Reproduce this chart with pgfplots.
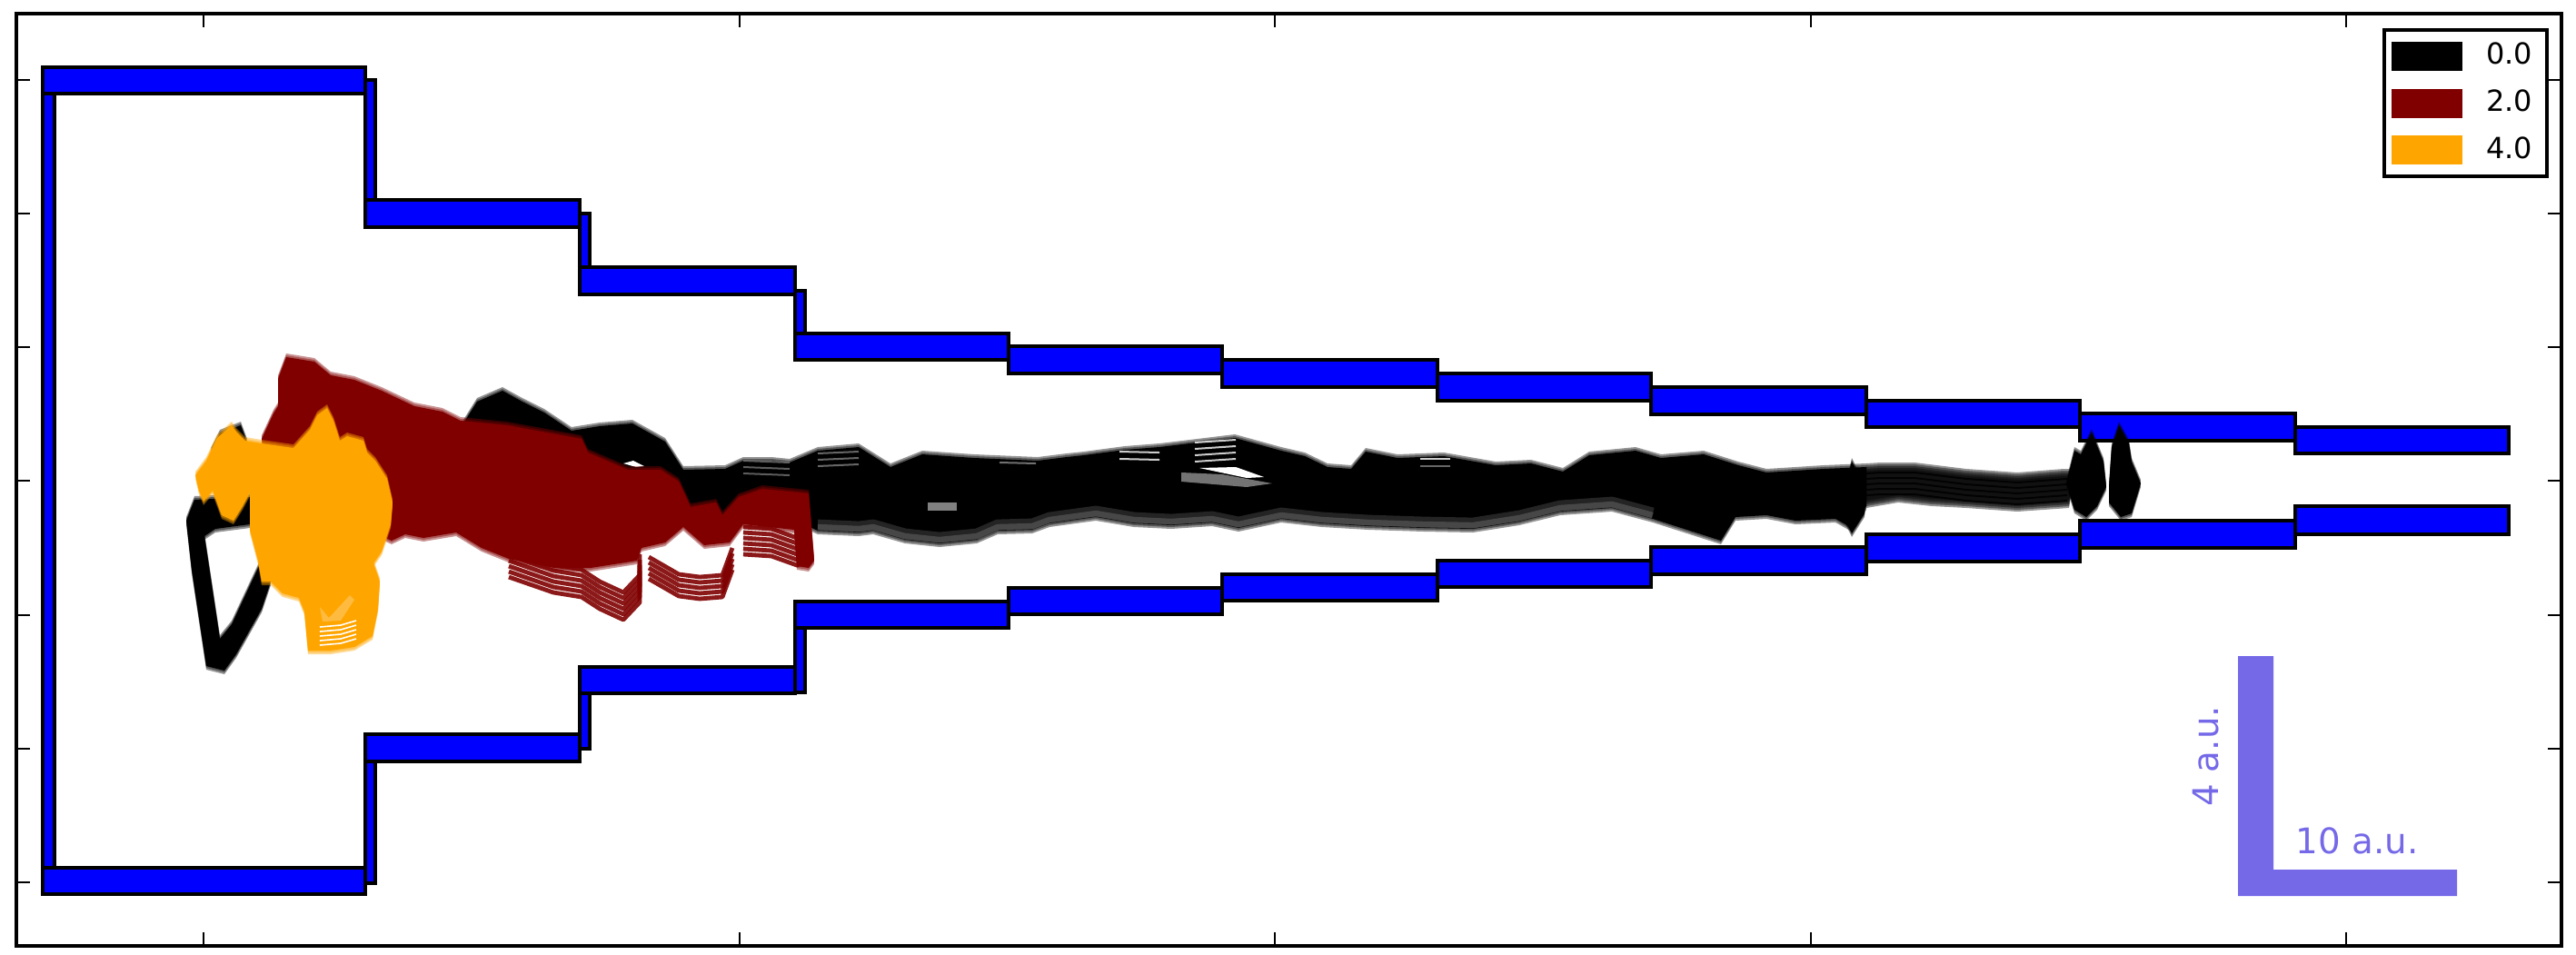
\documentclass[border=0pt]{standalone}
\usepackage{fontspec}
\setmainfont{DejaVu Sans}
\usepackage{pgfplots}
\usepackage{pgfplotstable}
\pgfplotsset{compat=1.18}
\definecolor{wall}{HTML}{0000FF}
\definecolor{maroon}{HTML}{800000}
\definecolor{amber}{HTML}{FFA500}
\definecolor{scalebar}{HTML}{7569E8}

% all coordinates are pixels of the reference, y running down
\pgfplotstableread{
x y
205 573
214 550
275 547
275 577
237 582
225 590
242 703
255 687
285 623
298 640
288 670
260 720
247 738
227 733
211 627
}\blackloop
\pgfplotstableread{
x y
232 497
242 477
265 468
272 487
252 510
}\blacktop
\pgfplotstableread{
x y
510 466
525 442
553 430
573 441
599 454
629 474
660 469
696 466
732 486
752 517
798 516
818 507
849 507
869 509
900 496
945 492
980 514
1015 500
1072 504
1142 507
1174 503
1193 501
1238 495
1276 492
1359 482
1410 496
1436 502
1461 514
1487 516
1503 497
1538 504
1589 502
1646 512
1685 510
1720 519
1749 501
1800 496
1828 504
1875 500
1913 512
1944 520
2007 516
2054 514
2054 557
2038 581
2020 571
1976 573
1944 567
1910 569
1894 595
1869 587
1819 571
1774 559
1717 563
1672 574
1621 582
1567 581
1506 579
1455 576
1410 571
1363 581
1334 575
1289 578
1248 576
1206 569
1155 576
1136 583
1098 584
1075 594
1034 598
996 594
961 584
945 586
900 584
889 579
760 566
600 546
510 496
}\blackband
% lower edge of the band, where the repeated curves thin out
\pgfplotstableread{
x y
900 584
945 586
961 584
996 594
1034 598
1075 594
1098 584
1136 583
1155 576
1206 569
1248 576
1289 578
1334 575
1363 581
1410 571
1455 576
1506 579
1567 581
1621 582
1672 574
1717 563
1774 559
1819 571
}\bandlow
\pgfplotstableread{
x y
2054 514
2070 513
2107 513
2164 520
2220 524
2271 520
2283 520
2277 555
2220 559
2164 555
2126 553
2089 549
2054 555
}\blacktail
\pgfplotstableread{
x y
2054 521
2070 520
2107 520
2164 527
2220 531
2275 527
}\tailline
\pgfplotstableread{
x y
2038 508
2054 540
2052 565
2038 587
2027 565
2032 532
}\blackspike
\pgfplotstableread{
x y
2274 532
2283 496
2290 500
2302 476
2315 508
2318 536
2308 557
2296 569
2283 561
}\blobone
\pgfplotstableread{
x y
2321 536
2324 492
2332 468
2343 488
2346 508
2356 532
2346 565
2334 569
2321 553
}\blobtwo
\pgfplotstableread{
x y
288 483
301 455
306 447
306 417
315 393
346 398
364 413
390 418
420 430
456 447
487 453
507 463
558 468
640 483
647 498
691 517
727 517
747 530
760 558
788 553
795 567
813 547
839 538
890 543
896 617
890 625
877 623
874 583
818 577
803 597
775 600
752 580
732 597
706 603
701 617
650 625
610 625
560 615
530 603
502 586
466 592
446 588
431 595
420 590
300 570
}\redbody
\pgfplotstableread{
x y
560 605
609 622
640 627
660 640
686 652
704 633
704 610
}\redloopa
\pgfplotstableread{
x y
714 613
747 632
770 635
795 633
806 603
}\redloopb
\pgfplotstableread{
x y
818 580
849 582
877 592
891 587
}\redloopc
\pgfplotstableread{
x y
215 523
227 507
239 482
255 468
260 475
270 485
288 488
323 493
341 473
349 457
360 449
367 463
374 485
382 480
400 485
404 498
413 507
426 527
432 553
430 577
420 607
411 620
418 640
416 670
410 700
390 712
364 716
339 716
335 673
329 658
311 653
298 640
288 640
284 617
275 583
275 542
267 557
257 573
244 567
234 540
224 552
219 540
}\orangebody
\pgfplotstableread{
x y
352 668
362 680
385 655
390 660
375 683
355 684
}\orangehole
\pgfplotstableread{
x y
352 690
375 688
392 683
}\orangegap

% one wall piece: x0 y0 x1 y1
\newcommand{\wallpiece}[4]{%
  \addplot[fill=wall, draw=black, line width=1pt, forget plot]
    coordinates {(#1,#2) (#3,#2) (#3,#4) (#1,#4)} --cycle;
}
% silhouette with stepped soft edges, as the repeated curves give
\newcommand{\blob}[2]{%
  \pgfplotsinvokeforeach{-1,-.5,.5,1}{%
    \addplot[fill=#2, draw=none, opacity=.42, yshift=##1*1pt, forget plot] table {#1} --cycle;
  }%
  \addplot[fill=#2, draw=none, forget plot] table {#1} --cycle;
}
% the same curve repeated downwards: table, copies-1, colour, width, step
\newcommand{\stack}[5]{%
  \pgfplotsinvokeforeach{0,...,#2}{%
    \addplot[draw=#3, line width=#4, line join=round, opacity=.9, yshift=-##1*#5, forget plot] table {#1};
  }%
}
% short gap in a band: x0 y0 x1 y1 colour
\newcommand{\streak}[5]{%
  \addplot[draw=#5, line width=.5pt, opacity=.8, forget plot] coordinates {(#1,#2) (#3,#4)};
}

\begin{document}
\begin{tikzpicture}
\begin{axis}[
  scale only axis, width=700.25pt, height=256.5pt,
  xmin=18, xmax=2819, ymin=15, ymax=1041, y dir=reverse,
  clip=false, axis line style={line width=1pt},
  xtick={224,814,1403,1993,2582},
  ytick={88,235,382,529,677,824,971},
  xticklabels={}, yticklabels={},
  every tick label/.append style={overlay},
  tick style={line width=.5pt, black},
  major tick length=3.75pt,
  tick align=inside,
  legend cell align=left,
  legend image code/.code={\fill[#1] (0pt,-3.5pt) rectangle (18.5pt,3.5pt);},
  legend style={at={(axis cs:2805,31)}, anchor=north east,
    font=\fontsize{8}{9.6}\selectfont, line width=1pt, row sep=1.5pt, column sep=4.5pt,
    inner xsep=2pt, inner ysep=1.5pt},
]
\addlegendimage{black}\addlegendentry{0.0}
\addlegendimage{maroon}\addlegendentry{2.0}
\addlegendimage{amber}\addlegendentry{4.0}

% vertical pieces first, the long ones lie over them
\wallpiece{47}{74}{60}{984}
\wallpiece{402}{88}{413}{250}
\wallpiece{402}{810}{413}{972}
\wallpiece{638}{235}{649}{309}
\wallpiece{638}{750}{649}{824}
\wallpiece{875}{320}{886}{382}
\wallpiece{875}{677}{886}{762}
% top chain
\wallpiece{47}{74}{402}{103}
\wallpiece{402}{220}{638}{250}
\wallpiece{638}{294}{875}{324}
\wallpiece{875}{367}{1110}{396}
\wallpiece{1110}{381}{1345}{411}
\wallpiece{1345}{396}{1582}{426}
\wallpiece{1582}{411}{1817}{441}
\wallpiece{1817}{426}{2054}{456}
\wallpiece{2054}{441}{2289}{470}
\wallpiece{2289}{455}{2526}{485}
\wallpiece{2526}{470}{2761}{499}
% bottom chain
\wallpiece{47}{955}{402}{984}
\wallpiece{402}{808}{638}{838}
\wallpiece{638}{734}{875}{763}
\wallpiece{875}{662}{1110}{691}
\wallpiece{1110}{647}{1345}{676}
\wallpiece{1345}{632}{1582}{661}
\wallpiece{1582}{617}{1817}{646}
\wallpiece{1817}{602}{2054}{632}
\wallpiece{2054}{588}{2289}{618}
\wallpiece{2289}{573}{2526}{603}
\wallpiece{2526}{557}{2761}{588}

% black swarm
\blob{\blackloop}{black}
\blob{\blacktop}{black}
\pgfplotsinvokeforeach{-1,-.5,0,.5,1}{%
  \addplot[fill=black, draw=none, opacity=.42, yshift=#1*1pt, forget plot] table {\blacktail} --cycle;
}
\stack{\tailline}{4}{black}{.5pt}{1.5pt}
\blob{\blackband}{black}
\blob{\blackspike}{black}
\blob{\blobone}{black}
\blob{\blobtwo}{black}
% thinner lower edge of the band
\addplot[draw=white, line width=3pt, opacity=.14, line join=round, yshift=1.6pt, forget plot] table {\bandlow};
\addplot[draw=white, line width=1.6pt, opacity=.16, line join=round, yshift=1pt, forget plot] table {\bandlow};
% openings in the black band
\streak{818}{507}{869}{509}{black!55}
\streak{818}{514}{869}{516}{black!55}
\streak{818}{521}{869}{523}{black!55}
\streak{900}{499}{945}{497}{black!50}
\streak{900}{506}{945}{504}{black!50}
\streak{900}{513}{945}{511}{black!50}
\streak{1100}{509}{1140}{510}{black!45}
\streak{1232}{497}{1276}{498}{white}
\streak{1232}{505}{1276}{506}{white}
\streak{1315}{487}{1360}{484}{white}
\streak{1315}{494}{1360}{491}{white}
\streak{1315}{501}{1360}{498}{white}
\streak{1315}{508}{1360}{505}{white}
\streak{1563}{505}{1596}{505}{white}
\streak{1563}{513}{1596}{513}{black!50}
\addplot[fill=white, draw=none, forget plot] coordinates {(1320,515) (1360,514) (1391,525) (1372,526)} --cycle;
\addplot[fill=black!55, draw=none, forget plot] coordinates {(1300,520) (1345,522) (1400,532) (1372,536) (1300,530)} --cycle;
\addplot[fill=black!50, draw=none, forget plot] coordinates {(1021,553) (1053,553) (1053,562) (1021,562)} --cycle;
\addplot[fill=white, draw=none, forget plot] coordinates {(686,510) (697,507) (709,513) (700,514)} --cycle;

% maroon swarm
\stack{\redloopa}{5}{maroon}{1.2pt}{1.5pt}
\stack{\redloopb}{4}{maroon}{1.2pt}{1.5pt}
\stack{\redloopc}{5}{maroon}{1.2pt}{1.5pt}
\blob{\redbody}{maroon}

% orange swarm
\blob{\orangebody}{amber}
\addplot[fill=white, draw=none, opacity=.25, forget plot] table {\orangehole} --cycle;
\pgfplotsinvokeforeach{0,...,4}{%
  \addplot[draw=white, line width=.4pt, yshift=-#1*1.25pt, forget plot] table {\orangegap};
}

% scale bar
\addplot[fill=scalebar, draw=none, forget plot] coordinates
  {(2463,722) (2502,722) (2502,957) (2704,957) (2704,986) (2463,986)} --cycle;
\node[text=scalebar, font=\fontsize{9.7}{11}\selectfont] at (axis cs:2594,925) {10 a.u.};
\node[text=scalebar, font=\fontsize{9.7}{11}\selectfont, rotate=90] at (axis cs:2428,832) {4 a.u.};

% page as large as the reference
\path (axis cs:0,0) rectangle (axis cs:2835,1050);
\end{axis}
\end{tikzpicture}
\end{document}
